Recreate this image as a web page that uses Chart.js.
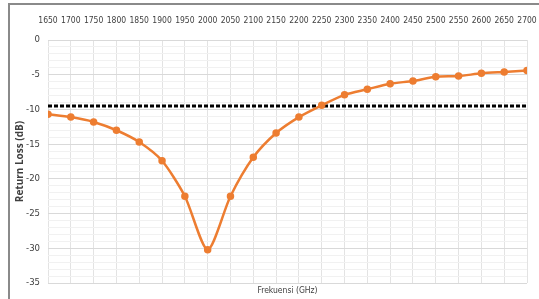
<!DOCTYPE html>
<html>
<head>
<meta charset="utf-8">
<script src="https://cdn.jsdelivr.net/npm/chart.js@4"></script>
<style>
  body { margin: 0; background: #fff; }
  #wrap { position: relative; width: 539px; height: 299px; overflow: hidden; }
  #frame { position: absolute; left: 8px; top: 3px; width: 600px; height: 400px;
           border-top: 2px solid #8a8a8a; border-left: 2px solid #8a8a8a; }
  #Graf1 { position: absolute; left: 0; top: 0; }
</style>
</head>
<body>
<div id="wrap">
  <div id="frame"></div>
  <canvas id="Graf1" width="539" height="299"></canvas>
</div>
<script>
// Datos del grafico
const frekuensi = [1650, 1700, 1750, 1800, 1850, 1900, 1950, 2000, 2050, 2100, 2150,
  2200, 2250, 2300, 2350, 2400, 2450, 2500, 2550, 2600, 2650, 2700];
const returnLoss = [-10.7, -11.1, -11.8, -13.0, -14.7, -17.4, -22.5, -30.2, -22.5, -16.9, -13.4,
  -11.1, -9.4, -7.9, -7.1, -6.3, -5.9, -5.3, -5.2, -4.8, -4.6, -4.4];
const batas = [-9.5, -9.5];
const yTicks = [0, -5, -10, -15, -20, -25, -30, -35];

const tickFont = { family: "'DejaVu Sans Condensed', sans-serif", size: 8.5 };

const ctx = document.getElementById('Graf1').getContext('2d');

const grafLine = new Chart(ctx, {
  type: 'line',
  data: {
    datasets: [{
      label: 'Return Loss',
      data: frekuensi.map((f, i) => ({ x: f, y: returnLoss[i] })),
      borderColor: '#ED7D31',
      backgroundColor: '#ED7D31',
      borderWidth: 2.5,
      pointRadius: 2.5,
      pointHoverRadius: 2.5,
      tension: 0.25
    }, {
      label: 'Batas',
      data: [{ x: frekuensi[0], y: batas[0] }, { x: frekuensi[frekuensi.length - 1], y: batas[1] }],
      borderColor: '#000',
      borderWidth: 3,
      borderDash: [4, 2],
      pointRadius: 0
    }]
  },
  options: {
    responsive: false,
    animation: false,
    layout: { padding: { left: 0, right: 12, top: 0, bottom: 0 } },
    plugins: {
      legend: { display: false },
      tooltip: { enabled: false }
    },
    scales: {
      x: {
        type: 'linear',
        position: 'top',
        min: 1650,
        max: 2700,
        afterBuildTicks: s => { s.ticks = frekuensi.map(v => ({ value: v })); },
        ticks: {
          color: '#404040', font: tickFont, maxRotation: 0, autoSkip: false, padding: 14,
          callback: v => String(v)
        },
        grid: { color: '#e3e3e3', drawTicks: false },
        border: { display: false },
        afterFit: s => { s.height = 40; s.paddingLeft = 0; s.paddingRight = 0; }
      },
      x2: {
        type: 'linear',
        position: 'bottom',
        min: 1650,
        max: 2700,
        ticks: { display: false },
        grid: { display: false },
        border: { display: false },
        title: {
          display: true, text: 'Frekuensi (GHz)', color: '#404040', font: tickFont,
          padding: { top: 0, bottom: 3 }
        },
        afterFit: s => { s.height = 16; s.paddingLeft = 0; s.paddingRight = 0; }
      },
      y: {
        min: -35,
        max: 0,
        afterBuildTicks: s => {
          const t = [];
          for (const v of yTicks) t.push({ value: v });
          for (let k = 0; k < yTicks.length - 1; k++) {
            for (let j = 1; j < 5; j++) t.push({ value: yTicks[k] - j });
          }
          s.ticks = t.sort((a, b) => a.value - b.value);
        },
        ticks: {
          color: '#404040', font: { family: "'DejaVu Sans Condensed', sans-serif", size: 9.5 },
          autoSkip: false, padding: 8,
          callback: v => (yTicks.includes(v) ? String(v) : '')
        },
        grid: {
          drawTicks: false,
          color: c => (c.tick && yTicks.includes(c.tick.value) ? '#d9d9d9' : '#f1f1f1')
        },
        border: { display: false },
        title: {
          display: true, text: 'Return Loss (dB)', color: '#404040',
          font: { family: "'Open Sans', sans-serif", size: 10, weight: 'bold' },
          padding: { top: 14, bottom: 0 }
        },
        afterFit: s => { s.width = 48; s.paddingTop = 0; s.paddingBottom = 0; }
      }
    }
  }
});
</script>
</body>
</html>
